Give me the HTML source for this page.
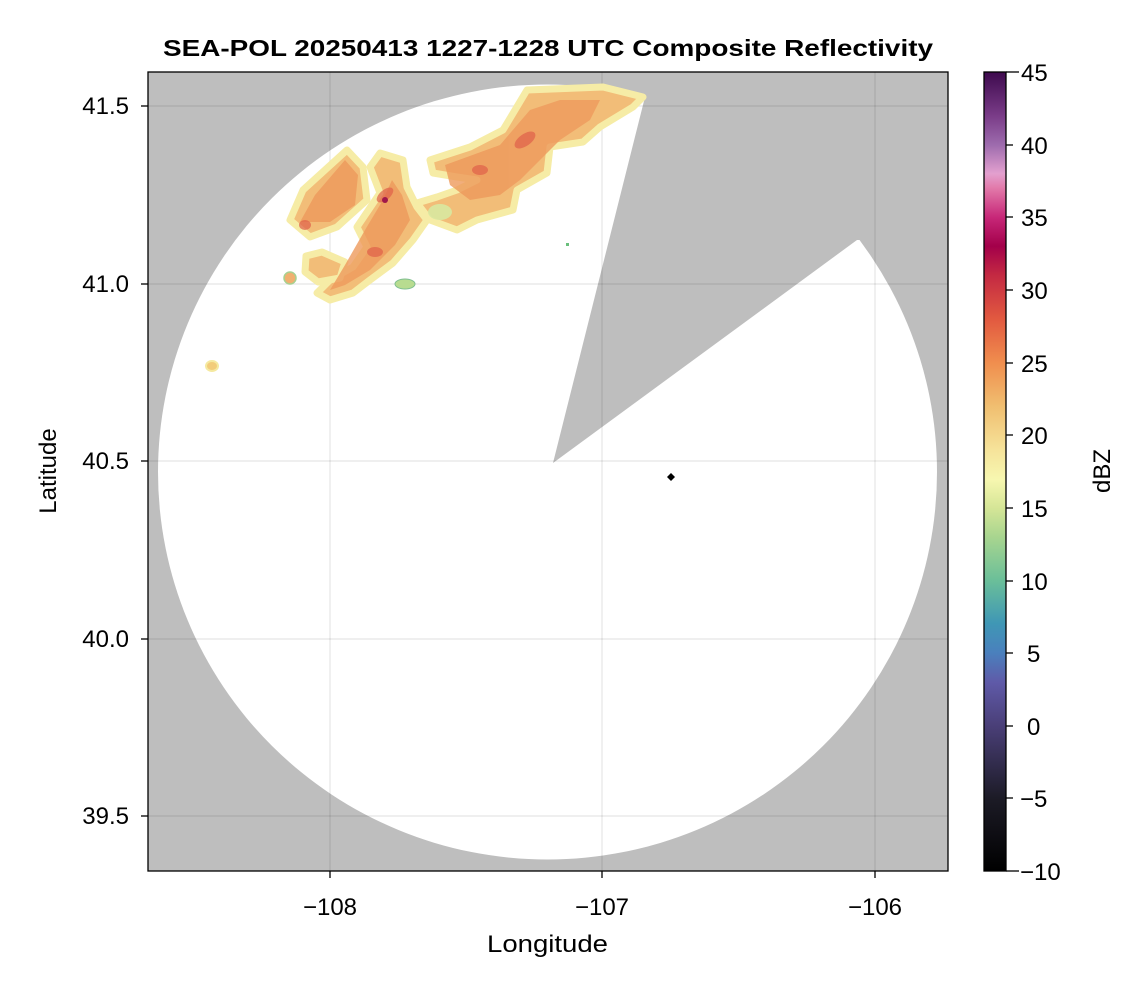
<!DOCTYPE html>
<html><head><meta charset="utf-8"><style>
body{margin:0;background:#fff;}
svg text{font-family:"Liberation Sans",Arial,sans-serif;}
</style></head><body>
<svg width="1146" height="990" viewBox="0 0 1146 990" xmlns="http://www.w3.org/2000/svg">
<defs>
<clipPath id="pc"><rect x="148" y="72" width="800" height="799"/></clipPath>
<linearGradient id="cb" x1="0" y1="1" x2="0" y2="0">
<stop offset="0" stop-color="#000000"/>
<stop offset="0.091" stop-color="#1c1b26"/>
<stop offset="0.182" stop-color="#4a3f78"/>
<stop offset="0.236" stop-color="#5f5aa8"/>
<stop offset="0.273" stop-color="#4a80bd"/>
<stop offset="0.31" stop-color="#3f97b5"/>
<stop offset="0.364" stop-color="#6bbf99"/>
<stop offset="0.418" stop-color="#a8d58f"/>
<stop offset="0.455" stop-color="#d6e697"/>
<stop offset="0.49" stop-color="#f7f7b0"/>
<stop offset="0.527" stop-color="#f6e39a"/>
<stop offset="0.582" stop-color="#f0be70"/>
<stop offset="0.636" stop-color="#f08e4e"/>
<stop offset="0.69" stop-color="#e25a40"/>
<stop offset="0.745" stop-color="#c42a42"/>
<stop offset="0.782" stop-color="#a3004a"/>
<stop offset="0.818" stop-color="#c72778"/>
<stop offset="0.855" stop-color="#e27aaa"/>
<stop offset="0.873" stop-color="#e3a0cf"/>
<stop offset="0.909" stop-color="#9d6bad"/>
<stop offset="0.945" stop-color="#7a3c88"/>
<stop offset="1" stop-color="#3e0a4e"/>
</linearGradient>
</defs>
<g clip-path="url(#pc)">
<rect x="148" y="72" width="800" height="799" fill="#bebebe"/>
<ellipse cx="547.5" cy="472" rx="389.5" ry="387.5" fill="#fff"/>
<polygon points="553,463 645,97 700,60 950,60 950,240 857,240" fill="#bebebe"/>
<g stroke="#000" stroke-opacity="0.1" stroke-width="1.2">
<line x1="330" y1="72" x2="330" y2="871"/><line x1="602" y1="72" x2="602" y2="871"/><line x1="875" y1="72" x2="875" y2="871"/>
<line x1="148" y1="106" x2="948" y2="106"/><line x1="148" y1="284" x2="948" y2="284"/><line x1="148" y1="461" x2="948" y2="461"/><line x1="148" y1="639" x2="948" y2="639"/><line x1="148" y1="816" x2="948" y2="816"/>
</g>
<g stroke-linejoin="round">
<g fill="#f2bd78" stroke="#f6eca6" stroke-width="7">
<polygon points="430,160 470,147 503,130 527,90 603,87 643,97 633,107 600,127 583,142 550,147 547,173 517,190 513,210 477,220 457,230 430,220 417,203 437,197 457,190 477,180 457,177 433,173"/>
<polygon points="290,220 303,190 347,150 363,167 367,200 337,227 310,237"/>
<polygon points="357,227 380,193 370,167 380,153 403,160 407,187 417,207 427,220 413,240 393,263 370,280 353,293 330,300 317,293 330,280 353,267 367,247"/>
<polygon points="306,256 322,252 345,262 340,278 318,282 305,272"/>
</g>
<g fill="#ee9a5c" opacity="0.8">
<polygon points="445,165 500,145 530,110 560,100 600,100 590,120 560,140 540,160 520,180 500,195 470,200 450,185"/>
<polygon points="300,222 315,195 345,160 358,175 355,205 330,222"/>
<polygon points="365,230 383,200 392,180 402,195 410,220 395,245 370,270 345,285 330,290 345,265"/>
</g>
<g fill="#e0604a" opacity="0.7">
<ellipse cx="385" cy="195" rx="10" ry="5" transform="rotate(-40 385 195)"/>
<ellipse cx="375" cy="252" rx="8" ry="5"/>
<ellipse cx="525" cy="140" rx="12" ry="6" transform="rotate(-35 525 140)"/>
<ellipse cx="305" cy="225" rx="6" ry="5"/>
<ellipse cx="480" cy="170" rx="8" ry="5"/>
</g>
<circle cx="385" cy="200" r="3" fill="#a0184a"/>
<ellipse cx="212" cy="366" rx="6" ry="5" fill="#f2cc7a" stroke="#f5e9a0" stroke-width="2"/>
<ellipse cx="290" cy="278" rx="6" ry="6" fill="#f0b070" stroke="#a8d090" stroke-width="1.5"/>
<ellipse cx="405" cy="284" rx="10" ry="5" fill="#b8dc90" stroke="#7fbf90" stroke-width="1"/>
<ellipse cx="440" cy="212" rx="12" ry="8" fill="#d8e8a0" opacity="0.9"/>
<rect x="566" y="243" width="3" height="3" fill="#6abf7c"/>
</g>
</g>
<polygon points="671,473 675,477 671,481 667,477" fill="#000"/>
<rect x="148" y="72" width="800" height="799" fill="none" stroke="#000" stroke-width="1.3"/>
<g stroke="#000" stroke-width="1.3">
<line x1="330" y1="871" x2="330" y2="878"/><line x1="602" y1="871" x2="602" y2="878"/><line x1="875" y1="871" x2="875" y2="878"/>
<line x1="141" y1="106" x2="148" y2="106"/><line x1="141" y1="284" x2="148" y2="284"/><line x1="141" y1="461" x2="148" y2="461"/><line x1="141" y1="639" x2="148" y2="639"/><line x1="141" y1="816" x2="148" y2="816"/>
</g>
<g font-size="24" fill="#000">
<text x="330" y="915" text-anchor="middle">−108</text>
<text x="602" y="915" text-anchor="middle">−107</text>
<text x="875" y="915" text-anchor="middle">−106</text>
<g text-anchor="end">
<text x="129" y="114">41.5</text><text x="129" y="292">41.0</text><text x="129" y="469">40.5</text><text x="129" y="647">40.0</text><text x="129" y="824">39.5</text>
</g>
<text x="487" y="952" textLength="121" lengthAdjust="spacingAndGlyphs">Longitude</text>
<text transform="translate(56,471) rotate(-90)" text-anchor="middle">Latitude</text>
<text transform="translate(1110,471) rotate(-90)" text-anchor="middle">dBZ</text>
</g>
<text x="163" y="56" font-size="23" font-weight="bold" textLength="770" lengthAdjust="spacingAndGlyphs">SEA-POL 20250413 1227-1228 UTC Composite Reflectivity</text>
<rect x="984" y="72" width="22" height="799" fill="url(#cb)"/>
<rect x="984" y="72" width="22" height="799" fill="none" stroke="#000" stroke-width="1.3"/>
<g font-size="24">
<g stroke="#000" stroke-width="1.3">
<line x1="1006" y1="72" x2="1019" y2="72"/><line x1="1006" y1="145" x2="1013" y2="145"/><line x1="1006" y1="217" x2="1013" y2="217"/><line x1="1006" y1="290" x2="1013" y2="290"/><line x1="1006" y1="363" x2="1013" y2="363"/><line x1="1006" y1="435" x2="1013" y2="435"/><line x1="1006" y1="508" x2="1013" y2="508"/><line x1="1006" y1="581" x2="1013" y2="581"/><line x1="1006" y1="653" x2="1013" y2="653"/><line x1="1006" y1="726" x2="1013" y2="726"/><line x1="1006" y1="798" x2="1013" y2="798"/><line x1="1006" y1="871" x2="1019" y2="871"/>
</g>
<text x="1021" y="81">45</text><text x="1021" y="154">40</text><text x="1021" y="226">35</text><text x="1021" y="299">30</text><text x="1021" y="372">25</text><text x="1021" y="444">20</text><text x="1021" y="517">15</text><text x="1021" y="590">10</text><text x="1027" y="662">5</text><text x="1027" y="735">0</text><text x="1020" y="807">−5</text><text x="1020" y="880">−10</text>
</g>
</svg>
</body></html>
